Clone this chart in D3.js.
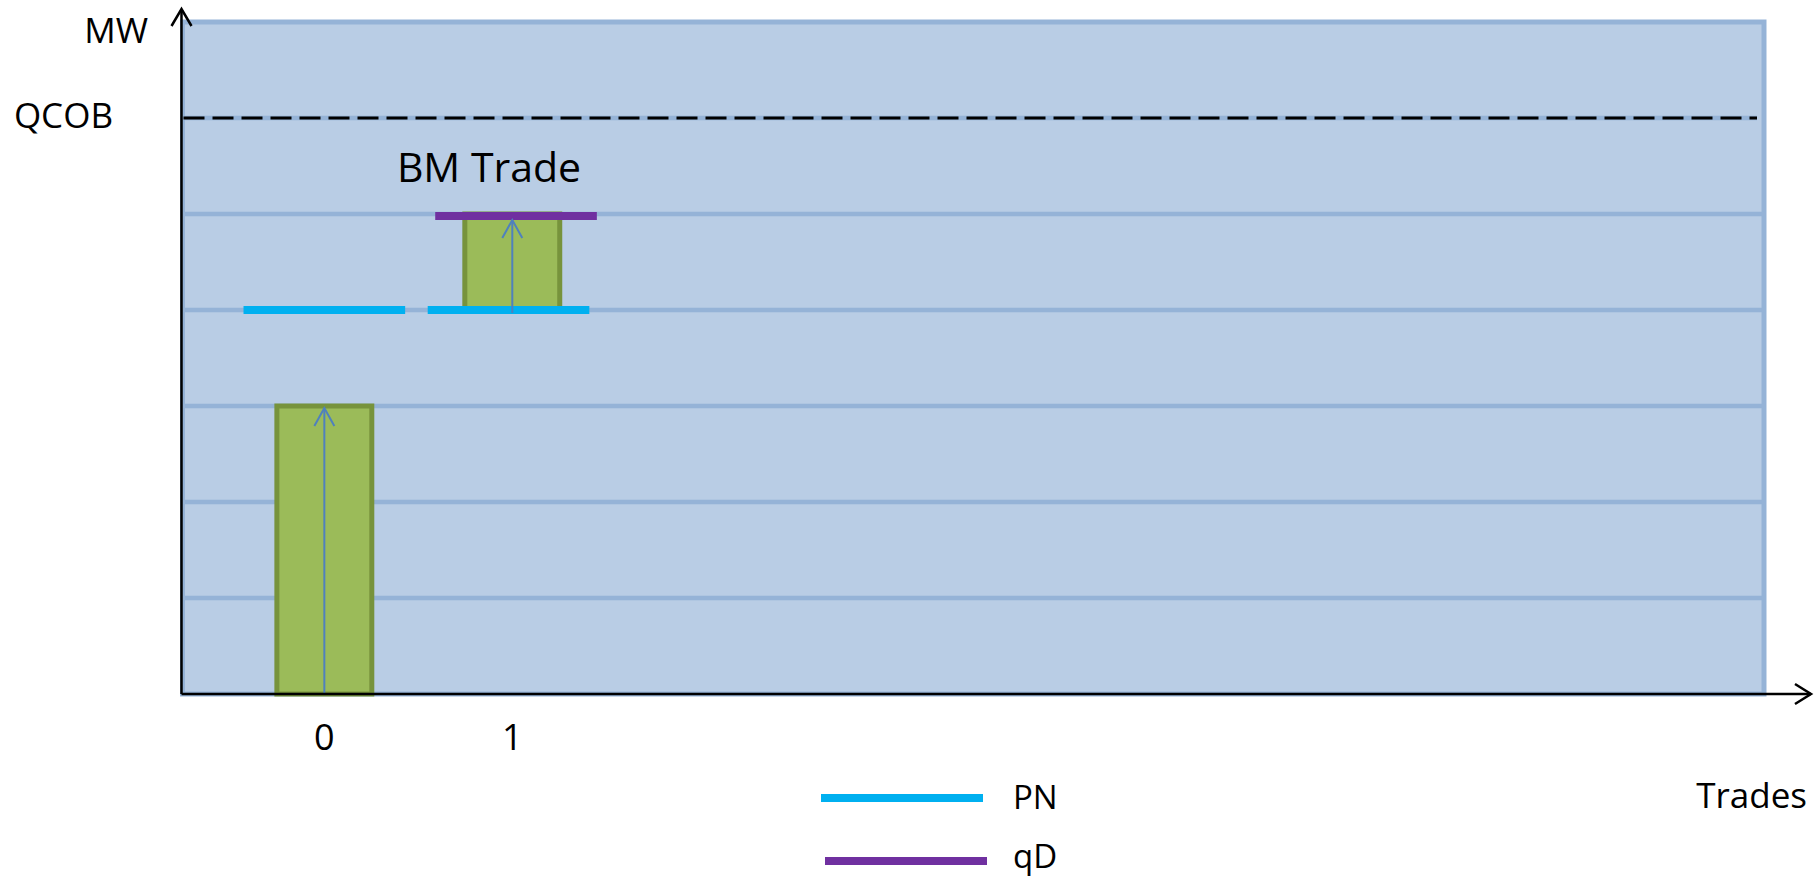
<!DOCTYPE html>
<html>
<head>
<meta charset="utf-8">
<script src="https://cdn.jsdelivr.net/npm/d3@7"></script>
<style>
  html, body { margin: 0; padding: 0; background: #fff; }
  svg { display: block; }
  text { font-family: "Open Sans", "Noto Sans", sans-serif; fill: #000; }
</style>
</head>
<body>
<svg id="chart" width="1814" height="880"></svg>
<script>
// ---- data ----
const trades = [0, 1];
const tickLabels = ["0", "1"];
const barBase = [0, 4];
const barTop = [3, 5];
const pnTrades = [0, 1];
const pnValues = [4, 4];
const qdTrades = [1];
const qdValues = [5];
const gridValues = [1, 2, 3, 4, 5];
const qcobValue = 6;
const yMax = 7;
const xDomain = [-0.76, 7.66];
const legendItems = ["PN", "qD"];

// ---- layout / style ----
const PL = 181.5, PR = 1764, PT = 22, PB = 694;
const svg = d3.select("#chart");
const x = d3.scaleLinear().domain(xDomain).range([PL, PR]);
const y = d3.scaleLinear().domain([0, yMax]).range([PB, PT]);
const gridColor = "#95B3D7";
const bgColor = "#B9CDE5";
const barFill = "#9BBB59";
const barStroke = "#77933C";
const pnColor = "#00B0F0";
const qdColor = "#7030A0";
const arrowColor = "#4F81BD";
const barHalf = 0.2525;   // in trade units
const segHalf = 0.43;
const segShift = [0, -0.02];  // small horizontal nudge of PN segments

// plot area
svg.append("rect")
  .attr("x", PL + 1).attr("y", y(yMax))
  .attr("width", x(xDomain[1]) - PL - 1).attr("height", y(0) - y(yMax))
  .attr("fill", bgColor).attr("stroke", gridColor).attr("stroke-width", 5);

// gridlines
svg.append("g").selectAll("line").data(gridValues).join("line")
  .attr("x1", PL).attr("x2", PR)
  .attr("y1", d => y(d)).attr("y2", d => y(d))
  .attr("stroke", gridColor).attr("stroke-width", 4.5);

// QCOB dashed
svg.append("line")
  .attr("x1", PL + 2).attr("x2", PR - 7)
  .attr("y1", y(qcobValue)).attr("y2", y(qcobValue))
  .attr("stroke", gridColor).attr("stroke-width", 4.5);
svg.append("line")
  .attr("x1", PL + 2).attr("x2", PR - 7)
  .attr("y1", y(qcobValue)).attr("y2", y(qcobValue))
  .attr("stroke", "#000").attr("stroke-width", 3)
  .attr("stroke-dasharray", "21,8");

// bars
svg.append("g").selectAll("rect").data(trades).join("rect")
  .attr("x", (d) => x(d - barHalf))
  .attr("y", (d, i) => y(barTop[i]))
  .attr("width", (d) => x(d + barHalf) - x(d - barHalf))
  .attr("height", (d, i) => y(barBase[i]) - y(barTop[i]))
  .attr("fill", barFill).attr("stroke", barStroke).attr("stroke-width", 5);

// PN segments
svg.append("g").selectAll("line").data(pnTrades).join("line")
  .attr("x1", (d, i) => x(d - segHalf + segShift[i])).attr("x2", (d, i) => x(d + segHalf + segShift[i]))
  .attr("y1", (d, i) => y(pnValues[i])).attr("y2", (d, i) => y(pnValues[i]))
  .attr("stroke", pnColor).attr("stroke-width", 8);

// qD segments
svg.append("g").selectAll("line").data(qdTrades).join("line")
  .attr("x1", d => x(d - segHalf + 0.02)).attr("x2", d => x(d + segHalf + 0.02))
  .attr("y1", (d, i) => y(qdValues[i]) + 2).attr("y2", (d, i) => y(qdValues[i]) + 2)
  .attr("stroke", qdColor).attr("stroke-width", 8);

// arrows inside bars
const arrows = svg.append("g");
trades.forEach((t, i) => {
  const cx = x(t);
  const y0 = y(barBase[i]) + (i === 0 ? 0 : 3);
  const y1 = y(barTop[i]) + (i === 0 ? 2 : 6);
  arrows.append("line").attr("x1", cx).attr("x2", cx).attr("y1", y0).attr("y2", y1)
    .attr("stroke", arrowColor).attr("stroke-width", 2);
  arrows.append("path")
    .attr("d", `M${cx - 10},${y1 + 18} L${cx},${y1} L${cx + 10},${y1 + 18}`)
    .attr("fill", "none").attr("stroke", arrowColor).attr("stroke-width", 2);
});

// axes
const axisG = svg.append("g");
axisG.append("line").attr("x1", PL).attr("x2", 1811).attr("y1", PB).attr("y2", PB)
  .attr("stroke", "#000").attr("stroke-width", 2.5);
axisG.append("path").attr("d", `M1795,${PB - 10} L1811,${PB} L1795,${PB + 10}`)
  .attr("fill", "none").attr("stroke", "#000").attr("stroke-width", 2.5);
axisG.append("line").attr("x1", PL).attr("x2", PL).attr("y1", PB).attr("y2", 9)
  .attr("stroke", "#000").attr("stroke-width", 2.5);
axisG.append("path").attr("d", `M${PL - 10},26 L${PL},9 L${PL + 10},26`)
  .attr("fill", "none").attr("stroke", "#000").attr("stroke-width", 2.5);

// tick labels
svg.append("g").selectAll("text").data(trades).join("text")
  .attr("x", d => x(d)).attr("y", 750)
  .attr("text-anchor", "middle").attr("font-size", 36)
  .text((d, i) => tickLabels[i]);

// labels
svg.append("text").attr("x", 148).attr("y", 43).attr("text-anchor", "end")
  .attr("font-size", 35).text("MW");
svg.append("text").attr("x", 113).attr("y", y(qcobValue) + 10).attr("text-anchor", "end")
  .attr("font-size", 35).text("QCOB");
svg.append("text").attr("x", 1807).attr("y", 808).attr("text-anchor", "end")
  .attr("font-size", 35).text("Trades");
svg.append("text").attr("x", 489).attr("y", 182).attr("text-anchor", "middle")
  .attr("font-size", 41).text("BM Trade");

// legend
const legend = svg.append("g");
const legendColors = [pnColor, qdColor];
const legendY = [798, 861];
const legendX = [821, 825];
const legendTextY = [809, 868];
legendItems.forEach((name, i) => {
  legend.append("line").attr("x1", legendX[i]).attr("x2", legendX[i] + 162)
    .attr("y1", legendY[i]).attr("y2", legendY[i])
    .attr("stroke", legendColors[i]).attr("stroke-width", 8);
  legend.append("text").attr("x", 1013).attr("y", legendTextY[i])
    .attr("font-size", 33).text(name);
});
</script>
</body>
</html>
